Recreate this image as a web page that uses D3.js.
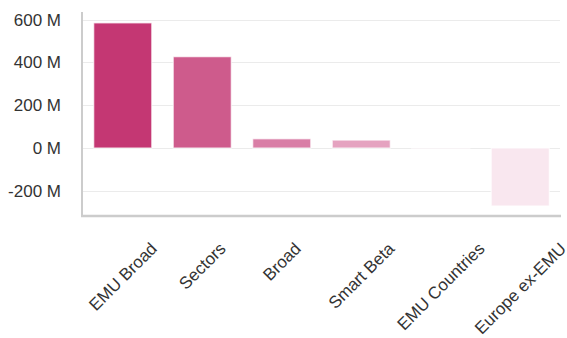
<!DOCTYPE html>
<html>
<head>
<meta charset="utf-8">
<script src="https://cdn.jsdelivr.net/npm/d3@7"></script>
<style>
  html, body { margin: 0; padding: 0; background: #fff; }
  svg { display: block; font-family: "Liberation Sans", Arial, Helvetica, sans-serif; }
</style>
</head>
<body>
<svg id="chart" width="567" height="338"></svg>
<script>
const categories = ["EMU Broad", "Sectors", "Broad", "Smart Beta", "EMU Countries", "Europe ex-EMU"];
const values = [585, 427, 43, 37, -1, -271]; // millions
const barColors = ["#c43773", "#ce5b8c", "#d97ea6", "#e5a3c0", "#f0c7d9", "#f9e7ef"];
const yTicks = [-200, 0, 200, 400, 600];
const yDomain = [-318, 636];

(function () {
const svg = d3.select("#chart");
const pL = 83, pR = 560, pT = 12, pB = 216;

const x = d3.scaleBand().domain(categories).range([pL, pR]).paddingInner(0.27).paddingOuter(0.135);
const y = d3.scaleLinear().domain(yDomain).range([pB, pT]);

// gridlines
svg.append("g").selectAll("line").data(yTicks).join("line")
  .attr("x1", pL).attr("x2", pR)
  .attr("y1", d => Math.round(y(d)) + 0.5).attr("y2", d => Math.round(y(d)) + 0.5)
  .attr("stroke", "#ebebeb").attr("stroke-width", 1);

// y axis labels
const yAxis = d3.axisLeft(y).tickValues(yTicks).tickSize(0).tickPadding(22)
  .tickFormat(d => d + " M");
const ya = svg.append("g").attr("transform", `translate(${pL},0)`).call(yAxis);
ya.select(".domain").remove();
ya.selectAll("text").attr("font-size", 17).attr("fill", "#333")
  .attr("font-family", "Liberation Sans, Arial, sans-serif");

// bars
svg.append("g").selectAll("rect").data(categories).join("rect")
  .attr("x", d => x(d))
  .attr("width", x.bandwidth())
  .attr("y", (d, i) => y(Math.max(0, values[i])))
  .attr("height", (d, i) => Math.abs(y(values[i]) - y(0)))
  .attr("fill", (d, i) => barColors[i])
  .attr("stroke", "#ffffff").attr("stroke-width", 1.2).attr("stroke-opacity", 0.7);

// axis lines
svg.append("line").attr("x1", pL - 1).attr("x2", pL - 1).attr("y1", pT).attr("y2", pB + 1)
  .attr("stroke", "#cccccc").attr("stroke-width", 2);
svg.append("line").attr("x1", pL - 2).attr("x2", pR + 1).attr("y1", pB).attr("y2", pB)
  .attr("stroke", "#cccccc").attr("stroke-width", 2.5);

// x labels: rotated -45, bounding box centered on bar, top aligned
const labelTop = 241;
const fs = 17;
const xl = svg.append("g");
categories.forEach(c => {
  const t = xl.append("text")
    .attr("font-size", fs).attr("fill", "#333")
    .attr("text-anchor", "middle")
    .attr("dy", "0.35em")
    .text(c);
  const L = t.node().getComputedTextLength();
  const h = fs * 0.75;
  const cx = x(c) + x.bandwidth() / 2;
  const cy = labelTop + (L + h) / (2 * Math.SQRT2);
  t.attr("transform", `translate(${cx},${cy}) rotate(-45)`);
});
})();
</script>
</body>
</html>
